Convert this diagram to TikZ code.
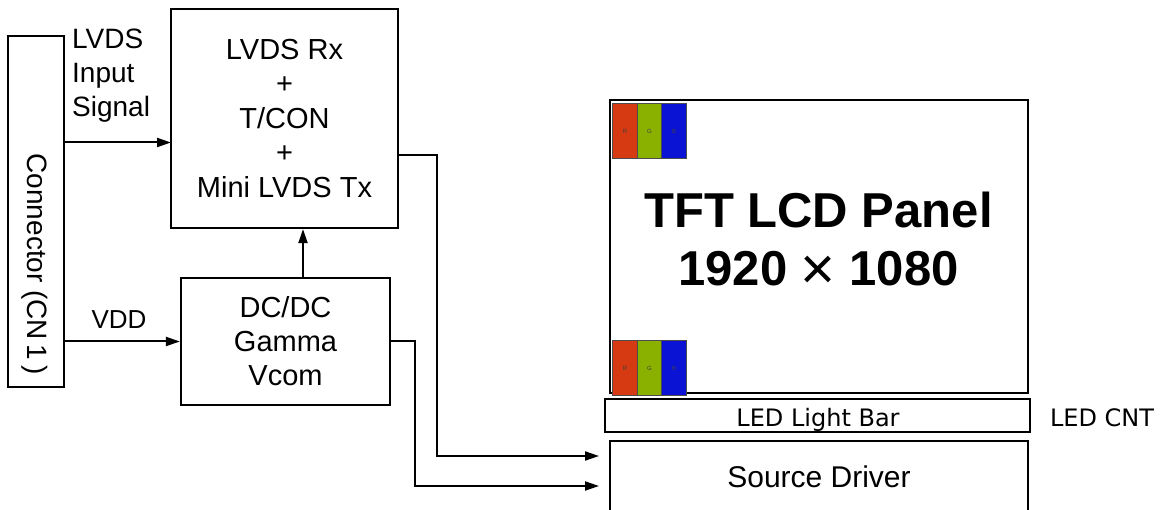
\documentclass[tikz,border=0pt]{standalone}
\usepackage{fontspec}
\setmainfont{Liberation Sans}
\newfontfamily\barfont{DejaVu Sans}
\usepackage{tikz}
\usetikzlibrary{arrows.meta}
\definecolor{cellred}{RGB}{214,58,18}
\definecolor{cellgreen}{RGB}{138,176,0}
\definecolor{cellblue}{RGB}{10,18,212}

\begin{document}
\begin{tikzpicture}[
  x=1pt, y=-1pt,
  box/.style={draw, line width=2.2pt, inner sep=0pt, align=center, font=\fontsize{29}{34.5}\selectfont},
  lbl/.style={inner sep=0pt, font=\fontsize{28}{34}\selectfont},
  barlbl/.style={inner sep=0pt, font=\barfont\fontsize{24}{28}\selectfont},
  cell/.style={draw=black!70, line width=1pt, minimum width=24.5pt, minimum height=55pt, inner sep=0pt, font=\fontsize{6}{6}\selectfont, text=black!75},
  arr/.style={line width=2pt, -{Triangle[length=14pt, width=9pt]}}]
  \useasboundingbox (0,0) rectangle (1165,510);
  \clip (0,0) rectangle (1165,510);
  \node[box, minimum width=56pt, minimum height=351pt] (conn) at (36,211.5) {};
  \node[lbl, rotate=-90] (connlbl) at (35,264) {Connector (CN\,1\,)};
  \node[box, minimum width=227pt, minimum height=219pt] (rx) at (284.5,118.5) {LVDS Rx\\+\\T/CON\\+\\Mini LVDS Tx};
  \node[box, minimum width=209pt, minimum height=127pt, font=\fontsize{29}{34}\selectfont] (dc) at (285.5,341.5) {DC/DC\\Gamma\\Vcom};
  \node[lbl, anchor=north west, align=left] (siglbl) at (72,29) {LVDS\\Input\\Signal};
  \node[lbl, anchor=base, font=\fontsize{26}{30}\selectfont] (vddlbl) at (119,329) {VDD};
  % panel side
  \node[box, minimum width=418pt, minimum height=293pt] (panel) at (819,246.5) {};
  \node[inner sep=0pt, align=center, font=\bfseries\fontsize{49}{58}\selectfont] (paneltxt) at (818.5,241) {TFT LCD Panel\\1920 \raisebox{-4pt}{\mdseries\fontsize{60}{58}\selectfont ×} 1080};
  \node[cell, fill=cellred] (r1) at (625,131) {R};
  \node[cell, fill=cellgreen] (g1) at (649.5,131) {G};
  \node[cell, fill=cellblue] (b1) at (674,131) {B};
  \node[cell, fill=cellred] (r2) at (625,368.5) {R};
  \node[cell, fill=cellgreen] (g2) at (649.5,368.5) {G};
  \node[cell, fill=cellblue] (b2) at (674,368.5) {B};
  \node[box, line width=1.8pt, minimum width=425pt, minimum height=33pt] (bar) at (817.5,415.5) {};
  \node[barlbl, anchor=base] (bartxt) at (818,427) {LED Light Bar};
  \node[barlbl, anchor=base] (cnt) at (1102,427) {LED CNT};
  \node[box, minimum width=418pt, minimum height=72pt, font=\fontsize{30}{34}\selectfont] (src) at (819,477) {Source Driver};
  \coordinate (rxin) at (171,142.5);
  \coordinate (rxout) at (398,155);
  \coordinate (srcin1) at (599,456);
  \coordinate (srcin2) at (599,486);
  \draw[arr] (conn.east |- rxin) -- (rxin);
  \draw[arr] (conn.east |- dc.west) -- (dc.west);
  \draw[arr] ([xshift=17.5pt]dc.north) -- ([xshift=17.5pt]dc.north |- rx.south);
  \draw[arr] (rxout) -- ++(39,0) |- (srcin1);
  \draw[arr] (dc.east) -- ++(24,0) |- (srcin2);
\end{tikzpicture}
\end{document}
